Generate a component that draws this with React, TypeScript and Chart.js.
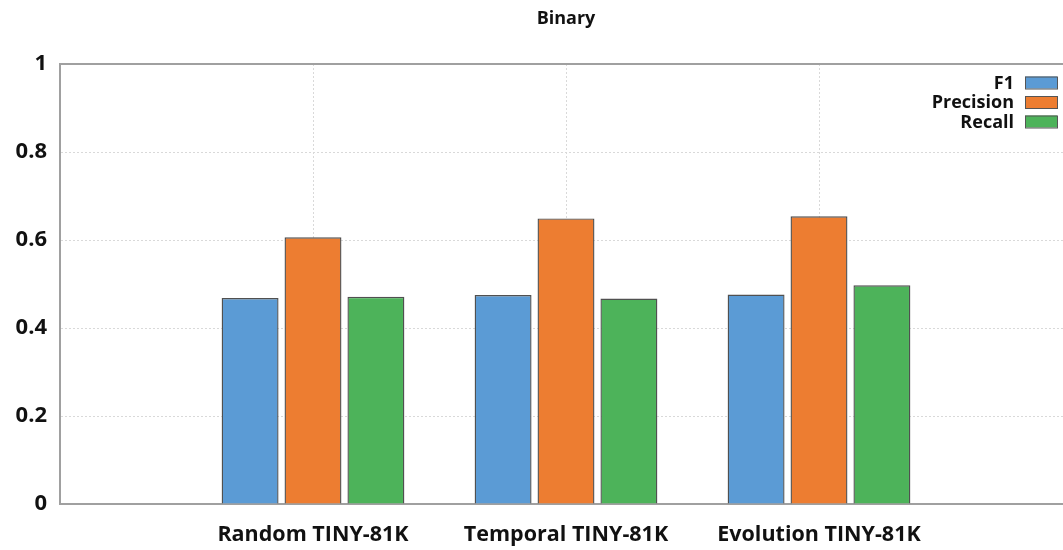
import React, { useEffect, useRef } from "react";
import { Chart, registerables } from "chart.js";

Chart.register(...registerables);

const categories = ["", "Random TINY-81K", "Temporal TINY-81K", "Evolution TINY-81K", ""];
const f1Values = [null, 0.468, 0.475, 0.476, null];
const precisionValues = [null, 0.606, 0.649, 0.654, null];
const recallValues = [null, 0.471, 0.467, 0.497, null];
const seriesNames = ["F1", "Precision", "Recall"];
const seriesColors = ["#5B9BD5", "#ED7D31", "#4DB35A"];
const yTicks = [0, 0.2, 0.4, 0.6, 0.8, 1];

const FONT = "'Open Sans', Lato, sans-serif";

const frameAndLegend = {
  id: "frameAndLegend",
  afterDraw(chart: any) {
    const { ctx, chartArea } = chart;
    ctx.save();
    ctx.strokeStyle = "#a0a0a0";
    ctx.lineWidth = 2;
    ctx.beginPath();
    ctx.moveTo(chartArea.left, chartArea.top);
    ctx.lineTo(chartArea.right, chartArea.top);
    ctx.stroke();
    const textRight = 1014;
    const boxLeft = 1025;
    const boxW = 32;
    const boxH = 12;
    const rowY0 = 82.5;
    const rowGap = 19.5;
    ctx.font = `bold 18px ${FONT}`;
    ctx.textAlign = "right";
    ctx.textBaseline = "middle";
    chart.data.datasets.forEach((ds: any, i: number) => {
      const cy = rowY0 + i * rowGap;
      ctx.fillStyle = "#111";
      ctx.fillText(ds.label, textRight, cy + 1);
      ctx.fillStyle = ds.backgroundColor;
      ctx.fillRect(boxLeft, cy - boxH / 2, boxW, boxH);
      ctx.strokeStyle = "#555";
      ctx.lineWidth = 1;
      ctx.strokeRect(boxLeft + 0.5, cy - boxH / 2 + 0.5, boxW, boxH);
    });
    ctx.restore();
  },
};

export default function App() {
  const canvasRef = useRef<HTMLCanvasElement | null>(null);

  useEffect(() => {
    document.body.style.margin = "0";
    document.body.style.overflow = "hidden";
    document.documentElement.style.overflow = "hidden";
    const canvas = canvasRef.current;
    if (!canvas) return;
    const seriesValues = [f1Values, precisionValues, recallValues];
    const chart = new Chart(canvas, {
      type: "bar",
      data: {
        labels: categories,
        datasets: seriesNames.map((name, i) => ({
          label: name,
          data: seriesValues[i] as any,
          backgroundColor: seriesColors[i],
          borderColor: "#505050",
          borderWidth: 1.4,
          categoryPercentage: 0.746,
          barPercentage: 0.905,
        })),
      },
      options: {
        animation: false,
        responsive: true,
        maintainAspectRatio: false,
        layout: { padding: 0 },
        plugins: {
          legend: { display: false },
          tooltip: { enabled: false },
          title: {
            display: true,
            fullSize: false,
            text: "Binary",
            color: "#111",
            font: { family: FONT, size: 18, weight: "bold" },
            padding: { top: 8, bottom: 34.4 },
          },
        },
        scales: {
          x: {
            offset: false,
            grid: { offset: false, color: "#d9d9d9", drawTicks: false },
            border: { color: "#a0a0a0", width: 2, dash: [2, 2] },
            ticks: {
              color: "#111",
              font: { family: FONT, size: 21.5, weight: "bold" },
              padding: 18,
              maxRotation: 0,
              autoSkip: false,
            },
            afterFit(scale: any) {
              scale.height = 46;
              scale.paddingLeft = 0;
              scale.paddingRight = 0;
            },
          },
          y: {
            min: 0,
            max: 1,
            afterBuildTicks(scale: any) {
              scale.ticks = yTicks.map((v) => ({ value: v }));
            },
            grid: { color: "#d9d9d9", drawTicks: false },
            border: { color: "#a0a0a0", width: 2, dash: [2, 2] },
            ticks: {
              color: "#111",
              font: { family: FONT, size: 22, weight: "bold" },
              padding: 13,
              callback: (v: any) => String(v),
            },
            afterFit(scale: any) {
              scale.width = 60;
              scale.paddingTop = 0;
              scale.paddingBottom = 0;
            },
          },
        },
      },
      plugins: [frameAndLegend],
    });
    return () => chart.destroy();
  }, []);

  return (
    <div style={{ width: 1072, height: 550, position: "relative" }}>
      <canvas ref={canvasRef} />
    </div>
  );
}
